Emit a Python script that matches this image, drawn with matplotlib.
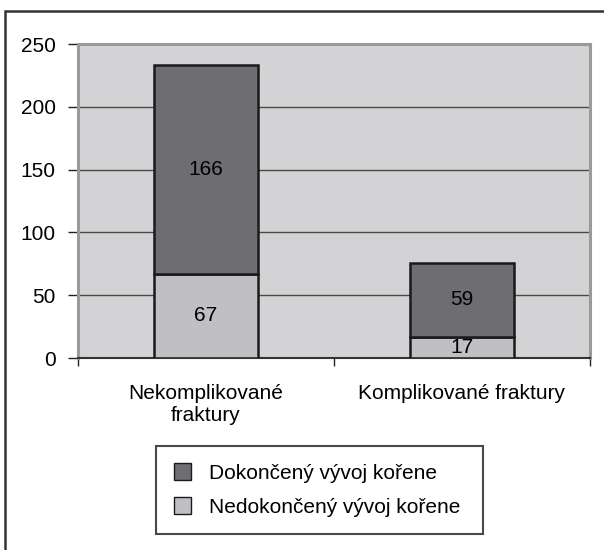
import matplotlib
matplotlib.use("Agg")
import matplotlib.pyplot as plt
from matplotlib.patches import Rectangle

plt.rcParams['font.family'] = ['Liberation Sans', 'DejaVu Sans']

categories = ["Nekomplikované\nfraktury", "Komplikované fraktury"]
nedokonceny = [67, 17]
dokonceny = [166, 59]
series_names = ["Dokončený vývoj kořene", "Nedokončený vývoj kořene"]
y_ticks = [0, 50, 100, 150, 200, 250]

fs = 15

fig = plt.figure(figsize=(6.04, 5.5), dpi=100)
ax = fig.add_axes([78 / 604, 1 - 358 / 550, 512 / 604, 314 / 550])
ax.set_facecolor("#d3d3d5")

x = list(range(len(categories)))
w = 0.406
b1 = ax.bar(x, nedokonceny, w, color="#c0c0c4", edgecolor="#1a1a1a", linewidth=1.8, zorder=3)
b2 = ax.bar(x, dokonceny, w, bottom=nedokonceny, color="#6e6e72", edgecolor="#1a1a1a",
            linewidth=1.8, zorder=3)

for i in x:
    ax.text(i, nedokonceny[i] / 2, str(nedokonceny[i]), ha="center", va="center",
            fontsize=fs, zorder=4)
    ax.text(i, nedokonceny[i] + dokonceny[i] / 2, str(dokonceny[i]), ha="center",
            va="center", fontsize=fs, zorder=4)

ax.set_xlim(-0.5, len(categories) - 0.5)
ax.set_ylim(0, 250)
ax.set_yticks(y_ticks)
ax.set_yticklabels([str(t) for t in y_ticks], fontsize=fs)
ax.tick_params(axis="y", length=7, width=1, color="#222222", pad=9)
ax.grid(axis="y", color="#4a4a4a", linewidth=1, zorder=1)

ax.set_xticks(x)
ax.set_xticklabels(categories, fontsize=fs, linespacing=1.2)
ax.tick_params(axis="x", which="major", length=0, pad=19)
ax.set_xticks([-0.5, 0.5, 1.5], minor=True)
ax.tick_params(axis="x", which="minor", length=6, width=1, color="#222222")

for side in ["left", "top", "right"]:
    ax.spines[side].set_color("#9a9a9a")
    ax.spines[side].set_linewidth(2.2)
ax.spines["bottom"].set_color("#333333")
ax.spines["bottom"].set_linewidth(1.5)

leg = fig.legend([b2, b1], series_names, loc="center", mode="expand",
                 bbox_to_anchor=(156 / 604, 17 / 550, 327 / 604, 86 / 550),
                 fontsize=fs, frameon=True, fancybox=False, edgecolor="#1a1a1a",
                 handlelength=0.82, handleheight=0.82, handletextpad=0.87,
                 borderpad=0.85, labelspacing=0.7, borderaxespad=0)
leg.get_frame().set_linewidth(1.5)
for h in leg.legend_handles:
    h.set_linewidth(1.0)

fig.patches.append(Rectangle((5 / 604, -0.2), 1.2, 1.2 - 11 / 550, transform=fig.transFigure,
                             fill=False, edgecolor="#333333", linewidth=1.8))

fig.savefig("out.png", dpi=100)
